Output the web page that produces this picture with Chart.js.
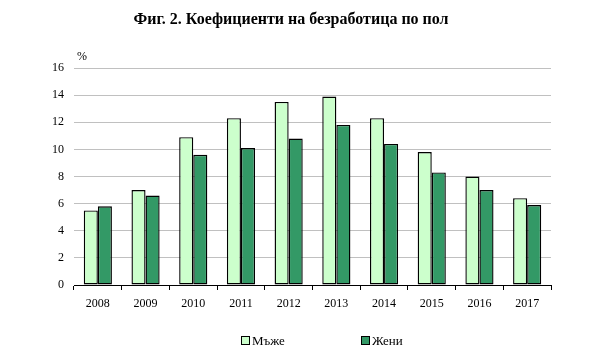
<!DOCTYPE html>
<html>
<head>
<meta charset="utf-8">
<script src="https://cdn.jsdelivr.net/npm/chart.js@4/dist/chart.umd.min.js"></script>
<style>
  html, body { margin: 0; padding: 0; background: #ffffff; }
  canvas { display: block; }
</style>
</head>
<body>
<canvas id="c" width="598" height="357"></canvas>
<script>
const titleText = 'Фиг. 2. Коефициенти на безработица по пол';
const unitLabel = '%';
const years = ['2008', '2009', '2010', '2011', '2012', '2013', '2014', '2015', '2016', '2017'];
const men = [5.5, 7.0, 10.9, 12.3, 13.5, 13.9, 12.3, 9.8, 8.0, 6.4];
const women = [5.8, 6.6, 9.6, 10.1, 10.8, 11.8, 10.4, 8.3, 7.0, 5.9];
const seriesNames = ['Мъже', 'Жени'];

const SERIF = '"Liberation Serif", "Times New Roman", serif';

const decor = {
  id: 'decor',
  afterDraw(chart) {
    const ctx = chart.ctx;
    const area = chart.chartArea;
    ctx.save();
    // title
    ctx.fillStyle = '#000';
    ctx.font = 'bold 16px ' + SERIF;
    ctx.textAlign = 'center';
    ctx.textBaseline = 'alphabetic';
    ctx.fillText(titleText, 291, 24);
    // unit
    ctx.font = '12px ' + SERIF;
    ctx.textAlign = 'left';
    ctx.fillText(unitLabel, area.left + 3, 60);
    // legend
    const xs = [241, 361];
    ctx.font = '13px ' + SERIF;
    chart.data.datasets.forEach((ds, i) => {
      const x = xs[i];
      ctx.fillStyle = ds.backgroundColor;
      ctx.fillRect(x + 0.5, 336.5, 8, 8);
      ctx.strokeStyle = '#000';
      ctx.lineWidth = 1;
      ctx.strokeRect(x + 0.5, 336.5, 8, 8);
      ctx.fillStyle = '#000';
      ctx.textAlign = 'left';
      ctx.textBaseline = 'alphabetic';
      ctx.fillText(ds.label, x + 11, 345);
    });
    ctx.restore();
  }
};

new Chart(document.getElementById('c'), {
  type: 'bar',
  data: {
    labels: years,
    datasets: [
      { label: seriesNames[0], data: men, backgroundColor: '#CCFFCC', borderColor: '#000000', borderWidth: 1.4, borderSkipped: false },
      { label: seriesNames[1], data: women, backgroundColor: '#339966', borderColor: '#000000', borderWidth: 1.4, borderSkipped: false }
    ]
  },
  options: {
    responsive: false,
    devicePixelRatio: 1,
    animation: false,
    layout: { padding: { left: 0, right: 47, top: 68, bottom: 42 } },
    datasets: { bar: { categoryPercentage: 0.59, barPercentage: 1.0 } },
    plugins: {
      legend: { display: false },
      title: { display: false },
      tooltip: { enabled: false }
    },
    scales: {
      x: {
        afterFit(scale) { scale.height = 30; },
        grid: { offset: true, drawOnChartArea: false, drawTicks: true, tickLength: 5, color: '#000000' },
        border: { display: true, color: '#000000', width: 1 },
        ticks: { color: '#000000', font: { family: SERIF, size: 12 }, padding: 7, maxRotation: 0 }
      },
      y: {
        min: 0, max: 16,
        afterFit(scale) { scale.width = 74; },
        grid: { color: '#C0C0C0', drawTicks: false, lineWidth: 1 },
        border: { display: false },
        ticks: { stepSize: 2, color: '#000000', font: { family: SERIF, size: 12 }, padding: 10 }
      }
    }
  },
  plugins: [decor]
});
</script>
</body>
</html>
